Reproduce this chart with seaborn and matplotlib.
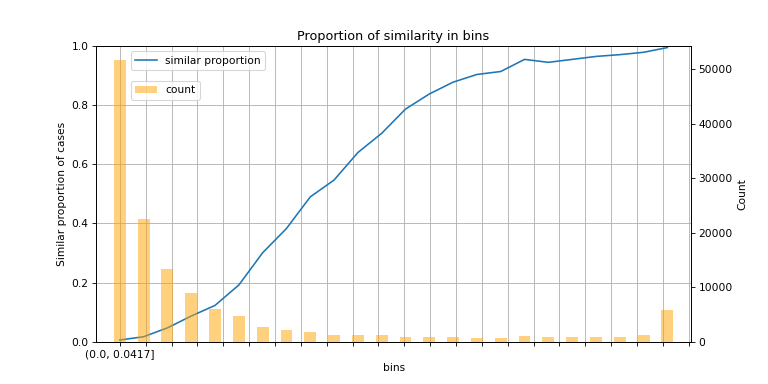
import seaborn as sns
import pandas as pd
import numpy as np
import matplotlib
matplotlib.use('Agg')
import matplotlib.pyplot as plt

# bin labels (pd.cut style intervals)
bin_labels = ['(0.0, 0.0417]', '(0.0417, 0.0833]', '(0.0833, 0.125]', '(0.125, 0.167]',
              '(0.167, 0.208]', '(0.208, 0.25]', '(0.25, 0.292]', '(0.292, 0.333]',
              '(0.333, 0.375]', '(0.375, 0.417]', '(0.417, 0.458]', '(0.458, 0.5]',
              '(0.5, 0.542]', '(0.542, 0.583]', '(0.583, 0.625]', '(0.625, 0.667]',
              '(0.667, 0.708]', '(0.708, 0.75]', '(0.75, 0.792]', '(0.792, 0.833]',
              '(0.833, 0.875]', '(0.875, 0.917]', '(0.917, 0.958]', '(0.958, 1.0]']

similar_proportion = [0.006, 0.017, 0.047, 0.087, 0.123, 0.192, 0.301, 0.383,
                      0.490, 0.547, 0.640, 0.705, 0.787, 0.838, 0.878, 0.904,
                      0.914, 0.955, 0.945, 0.955, 0.965, 0.971, 0.979, 0.995]

counts = [51620, 22480, 13320, 8870, 5990, 4650, 2690, 2140,
          1720, 1280, 1170, 1170, 860, 860, 860, 680,
          680, 1045, 860, 860, 860, 860, 1170, 5800]

df = pd.DataFrame({'bins': bin_labels,
                   'similar proportion': similar_proportion,
                   'count': counts})
df['pos'] = np.arange(len(df))

fig, ax = plt.subplots(figsize=(10, 5), dpi=76.8)

# proportion line
sns.lineplot(data=df, x='pos', y='similar proportion', ax=ax, label='similar proportion')
ax.set_ylim(0, 1)
ax.grid(True)
ax.legend(loc='upper left', bbox_to_anchor=(0.05, 1.0))

# counts on a second axis
ax2 = ax.twinx()
sns.barplot(data=df, x='pos', y='count', ax=ax2, color='orange', alpha=0.5,
            width=0.5, saturation=1, linewidth=0, label='count')
ax2.set_ylabel('Count')
ax2.legend(loc='upper left', bbox_to_anchor=(0.05, 0.9))

ax.set_xlim(-1, 24)
ax.set_xticks(np.linspace(0, 23.9, 23))
ax.set_xticklabels([bin_labels[0]] + [''] * 22)
ax.set_xlabel('bins')
ax.set_ylabel('Similar proportion of cases')
ax.set_title('Proportion of similarity in bins')

plt.savefig('out.png', dpi=76.8)
